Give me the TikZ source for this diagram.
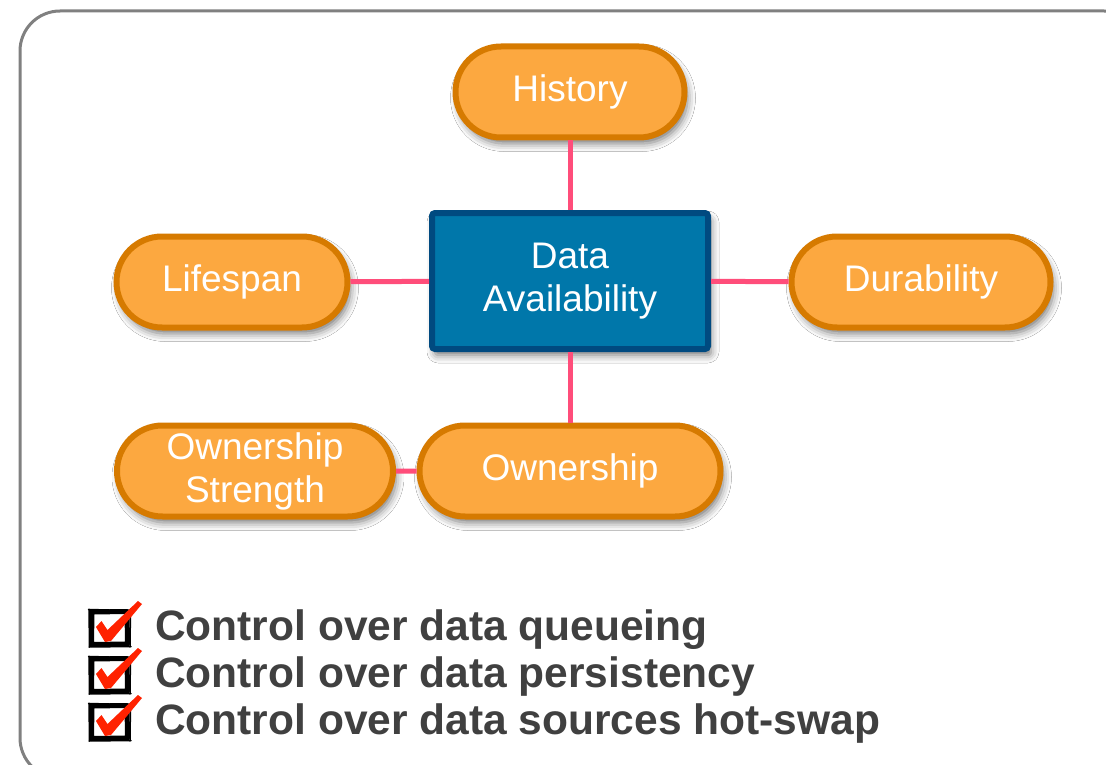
\documentclass[tikz,border=0pt]{standalone}
\usepackage{fontspec}
\setmainfont{Liberation Sans}
\usetikzlibrary{shapes.misc,shadows.blur}

\definecolor{nodefill}{HTML}{FCA840}
\definecolor{nodeedge}{HTML}{D67A00}
\definecolor{hubfill}{HTML}{0077AA}
\definecolor{hubedge}{HTML}{004A80}
\definecolor{linkpink}{HTML}{FF4D7A}
\definecolor{framegray}{HTML}{808080}
\definecolor{textgray}{HTML}{404040}
\definecolor{tickred}{HTML}{FF2200}

\tikzset{
  softshadow/.style={blur shadow={shadow xshift=3pt, shadow yshift=-6pt,
      shadow blur radius=8pt, shadow opacity=55}},
  pill/.style={rounded rectangle, draw=nodeedge, fill=nodefill, line width=6pt,
    text=white, font=\fontsize{37}{43}\selectfont, align=center,
    inner sep=0pt, minimum height=91pt, softshadow},
  hub/.style={rectangle, rounded corners=3pt, draw=hubedge, fill=hubfill,
    line width=6pt, text=white, font=\fontsize{37}{43}\selectfont,
    align=center, inner sep=0pt, minimum width=276pt, minimum height=136pt,
    softshadow},
  link/.style={draw=linkpink, line width=5pt},
  listtext/.style={font=\bfseries\fontsize{42.5}{47}\selectfont, text=textgray,
    inner sep=0pt, anchor=base west},
  ticked/.pic={
    % hand-drawn box
    \draw[black, line width=5pt, line join=round, line cap=round]
      (4,4) -- (39,3.5) -- (39.5,36) -- (3.5,36.5) -- cycle;
    \draw[black, line width=1.5pt, line cap=round]
      (0.5,1.5) -- (42,2.5) (42.5,1) -- (42,39) (1,39) -- (43,38.5)
      (1,1) -- (1.5,39);
    % red tick
    \fill[tickred] (8,19) -- (13.5,13) -- (19.5,22) -- (50,-7) -- (54,-4)
      -- (23,33) -- (17,34) -- cycle;
  }
}

\begin{document}
\begin{tikzpicture}[x=1pt, y=-1pt]
  \useasboundingbox (0,0) rectangle (1106,765);
  \fill[white] (0,0) rectangle (1106,765);

  % outer frame
  \draw[framegray, line width=3pt, rounded corners=40pt]
    (20,11) rectangle (1144,778);

  % nodes
  \node[pill, minimum width=229pt] (history) at (570,92) {History};
  \node[hub] (avail) at (570,281) {Data\\Availability};
  \node[pill, minimum width=231pt] (lifespan) at (232,282) {Lifespan};
  \node[pill, minimum width=259pt] (durability) at (921,282) {Durability};
  \node[pill, minimum width=301pt] (ownership) at (570,471) {Ownership};
  \node[pill, minimum width=276pt] (strength) at (255,471) {Ownership\\Strength};

  % connectors
  \draw[link] (avail) -- (history);
  \draw[link] (avail) -- (lifespan);
  \draw[link] (avail) -- (durability);
  \draw[link] (avail) -- (ownership);
  \draw[link] (strength) -- (ownership);

  % checklist
  \pic at (88,608) {ticked};
  \pic at (88,655) {ticked};
  \pic at (88,702) {ticked};
  \node[listtext] (item1) at (155,640) {Control over data queueing};
  \node[listtext] (item2) at (155,687) {Control over data persistency};
  \node[listtext] (item3) at (155,734) {Control over data sources hot-swap};
\end{tikzpicture}
\end{document}
